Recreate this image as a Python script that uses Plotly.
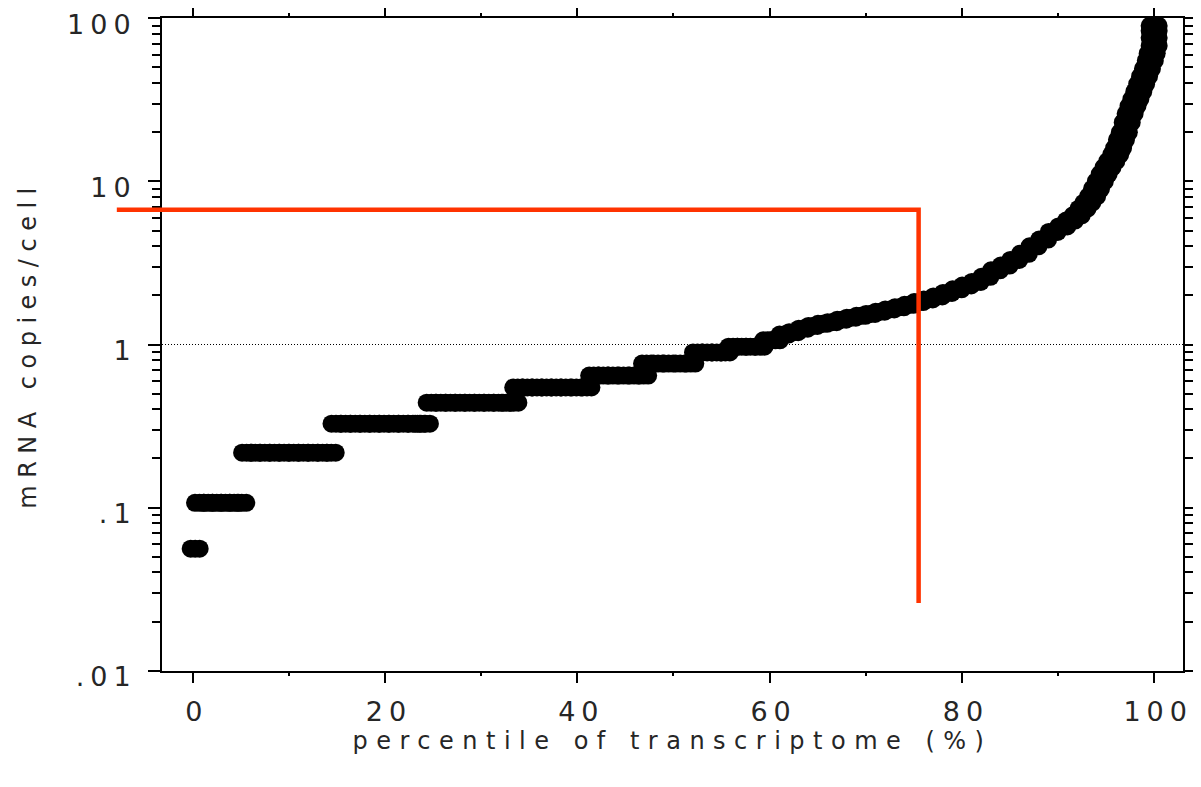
import math
import plotly.graph_objects as go

# ---------------- data ----------------
percentile = [
    0.25,
    0.7, 1.6, 2.5, 3.4, 4.3, 5.1,
    5.6, 6.5, 7.5, 8.5, 9.5, 10.5, 11.5, 12.5, 13.5, 14.4,
    14.9, 15.9, 16.9, 17.9, 18.9, 19.9, 20.9, 21.9, 22.9, 23.6, 24.2,
    24.8, 25.8, 26.8, 27.8, 28.8, 29.8, 30.8, 31.8, 32.6, 33.4,
    33.8, 34.8, 35.8, 36.8, 37.8, 38.8, 39.9, 41.0,
    41.7, 42.7, 43.7, 44.8, 45.9, 46.9,
    47.2, 48.4, 49.5, 50.7, 51.8,
    52.5, 53.5, 54.5, 55.4,
    56.2, 57.1, 58.0, 59.0,
    59.8, 60.6,
    61.5, 62.5, 63.5, 64.5, 65.5, 66.5, 67.5, 68.5, 69.5, 70.5,
    71.5, 72.5, 73.5, 74.5, 75.5, 76.5, 77.5, 78.5, 79.5, 80.5,
    81.5, 82.5, 83.5, 84.5, 85.5, 86.5, 87.5, 88.5, 89.5, 90.5,
    91.3, 92.0, 92.6, 93.1, 93.6, 94.0, 94.4, 94.8, 95.2, 95.6,
    96.0, 96.3, 96.6, 96.9, 97.2, 97.5, 97.8, 98.1, 98.4, 98.7,
    99.0, 99.3, 99.6, 99.8, 100.0, 100.0, 100.0, 100.0,
]
copies = [
    0.056,
    0.107, 0.107, 0.107, 0.107, 0.107, 0.107,
    0.217, 0.217, 0.217, 0.217, 0.217, 0.217, 0.217, 0.217, 0.217, 0.217,
    0.327, 0.327, 0.327, 0.327, 0.327, 0.327, 0.327, 0.327, 0.327, 0.327, 0.327,
    0.44, 0.44, 0.44, 0.44, 0.44, 0.44, 0.44, 0.44, 0.44, 0.44,
    0.545, 0.545, 0.545, 0.545, 0.545, 0.545, 0.545, 0.545,
    0.645, 0.645, 0.645, 0.645, 0.645, 0.645,
    0.764, 0.764, 0.764, 0.764, 0.764,
    0.894, 0.894, 0.894, 0.894,
    0.97, 0.97, 0.97, 0.97,
    1.06, 1.06,
    1.15, 1.19, 1.25, 1.30, 1.34, 1.37, 1.42, 1.46, 1.50, 1.54,
    1.59, 1.64, 1.69, 1.75, 1.82, 1.89, 1.97, 2.07, 2.18, 2.30,
    2.42, 2.60, 2.85, 3.05, 3.30, 3.60, 4.00, 4.40, 4.90, 5.30,
    5.75, 6.20, 6.80, 7.40, 8.10, 9.00, 10.0, 11.1, 12.2, 13.3,
    14.6, 16.0, 18.0, 20.0, 23.0, 26.0, 29.0, 32.0, 35.5, 39.5,
    44.0, 49.0, 55.0, 61.0, 68.0, 76.0, 84.0, 90.0,
]

x_tick_values = [0, 20, 40, 60, 80, 100]
x_tick_labels = ["0", "20", "40", "60", "80", "100"]
y_tick_values = [0.01, 0.1, 1, 10, 100]
y_tick_labels = [".01", ".1", "1", "10", "100"]

x_title = "percentile of transcriptome (%)"
y_title = "mRNA copies/cell"

guide_percentile = 75.5   # red vertical guide
guide_copies = 6.7        # red horizontal guide
guide_floor = 0.026       # bottom end of the vertical guide
guide_start = -7.9        # horizontal guide starts left of the axis
unity_copies = 1          # dotted reference line

# ---------------- layout constants ----------------
# the page body has an 8px margin, so the figure is 8px smaller
W, H = 1193, 779
ML, MR, MT, MB = 154, 18, 10, 116
X_RANGE = [-3.2, 103.0]
Y_RANGE = [-2.002, 2.002]  # log10
FONT = "DejaVu Sans"
TXT = "#262626"
RED = "#ff3300"

plot_w = W - ML - MR
units_per_px = (X_RANGE[1] - X_RANGE[0]) / plot_w
shift = 4.5 * units_per_px  # widen dots into ellipses, as in the source


def xp(v):
    return (v - X_RANGE[0]) / (X_RANGE[1] - X_RANGE[0])


def yp(v):
    return (math.log10(v) - Y_RANGE[0]) / (Y_RANGE[1] - Y_RANGE[0])


def spaced(text, px):
    return f'<span style="letter-spacing:{px}px">{text}</span>'


fig = go.Figure()
marker = dict(color="black", size=18, line=dict(width=0))
for xa in ["x", "x2", "x3"]:
    fig.add_trace(go.Scatter(
        x=percentile, y=copies, mode="markers", marker=marker,
        xaxis=xa, yaxis="y", showlegend=False, hoverinfo="skip",
    ))

axis_common = dict(
    showline=True, linewidth=2, linecolor="black", mirror="ticks",
    ticks="outside", tickwidth=2, tickcolor="black",
    showgrid=False, zeroline=False, automargin=False,
    ticklabeloverflow="allow",
    tickfont=dict(family=FONT, size=27, color=TXT),
)

fig.update_layout(
    width=W, height=H,
    margin=dict(l=ML, r=MR, t=MT, b=MB, pad=0),
    paper_bgcolor="white", plot_bgcolor="white",
    font=dict(family=FONT, color=TXT),
    xaxis=dict(
        **axis_common,
        range=X_RANGE, tickmode="array", tickvals=x_tick_values,
        ticktext=[spaced(t, 6) for t in x_tick_labels],
        ticklen=10, ticklabelstandoff=6, ticklabelshift=4,
        minor=dict(ticks="outside", dtick=10, tick0=0, ticklen=3,
                   tickwidth=2, tickcolor="black", showgrid=False),
        title=dict(text=spaced(x_title, 8.5), standoff=6,
                   font=dict(family=FONT, size=24, color=TXT)),
    ),
    xaxis2=dict(overlaying="x", range=[X_RANGE[0] + shift, X_RANGE[1] + shift],
                visible=False),
    xaxis3=dict(overlaying="x", range=[X_RANGE[0] - shift, X_RANGE[1] - shift],
                visible=False),
    yaxis=dict(
        **axis_common,
        type="log", range=Y_RANGE, tickmode="array", tickvals=y_tick_values,
        ticktext=[spaced(t, 6) for t in y_tick_labels],
        ticklen=12, ticklabelstandoff=6, ticklabelshift=6,
        minor=dict(ticks="outside", dtick="D1", ticklen=8,
                   tickwidth=2, tickcolor="black", showgrid=False),
        title=dict(text=spaced(y_title, 7.5), standoff=24,
                   font=dict(family=FONT, size=24, color=TXT)),
    ),
    shapes=[
        dict(type="line", xref="paper", yref="paper",
             x0=0, x1=1, y0=yp(unity_copies), y1=yp(unity_copies),
             line=dict(color="black", width=1, dash="1px,2px"), layer="below"),
        dict(type="path", xref="paper", yref="paper",
             path=(f"M {xp(guide_start)},{yp(guide_copies)} "
                   f"L {xp(guide_percentile)},{yp(guide_copies)} "
                   f"L {xp(guide_percentile)},{yp(guide_floor)}"),
             line=dict(color=RED, width=4.5), layer="above"),
    ],
)

fig.write_html("out.html")
